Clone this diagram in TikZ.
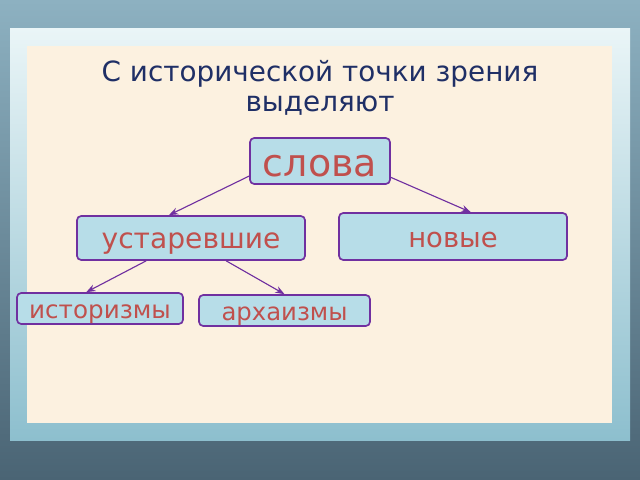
\documentclass[tikz,border=0pt]{standalone}
\usepackage{fontspec}
\setmainfont{DejaVu Sans}
\usetikzlibrary{arrows.meta}

\begin{document}
\begin{tikzpicture}[x=0.025cm, y=-0.025cm, >=Stealth]

\def\fw{640}
\def\fh{480}

% Colours
\definecolor{bgtop}{HTML}{8DB1C1}
\definecolor{bgbot}{HTML}{4A6474}
\definecolor{frametop}{HTML}{EAF5F7}
\definecolor{framebot}{HTML}{8DBFCE}
\definecolor{panelcolor}{HTML}{FCF1E0}
\definecolor{boxcolor}{HTML}{B7DDE8}
\definecolor{edgecolor}{HTML}{7030A0}
\definecolor{wordcolor}{HTML}{C0504D}
\definecolor{titlecolor}{HTML}{1F2F66}

% Styles
\tikzstyle{word box}=[draw=edgecolor, line width=1.2pt, fill=boxcolor, rounded corners=3pt, text=wordcolor, inner sep=0pt, text depth=0pt]
\tikzstyle{link}=[->, draw=edgecolor, line width=0.8pt]

% Background and frame
\useasboundingbox (0,0) rectangle (\fw,\fh);
\shade[top color=bgtop, bottom color=bgbot] (0,0) rectangle (\fw,\fh);
\shade[top color=frametop, bottom color=framebot] (10,28) rectangle (630,440);
\fill[panelcolor] (27,46) rectangle (612,423);

% Title
\node[text=titlecolor, align=center, font=\fontsize{19.8}{21.3}\selectfont] (title) at (320,88)
  {С исторической точки зрения\\выделяют};

% Words
\node[word box, minimum width=3.5cm, minimum height=1.15cm, text height=21.6pt, font=\fontsize{27}{30}\selectfont] (slova) at (320,161) {слова};
\node[word box, minimum width=5.7cm, minimum height=1.1cm, text height=15.5pt, font=\fontsize{20}{24}\selectfont] (ustar) at (191,238) {устаревшие};
\node[word box, minimum width=5.7cm, minimum height=1.175cm, text height=15.6pt, font=\fontsize{19.5}{24}\selectfont] (novye) at (453,236.5) {новые};
\node[word box, minimum width=4.15cm, minimum height=0.775cm, text height=14pt, font=\fontsize{17.5}{20}\selectfont] (istor) at (100,308.5) {историзмы};
\node[word box, minimum width=4.275cm, minimum height=0.775cm, text height=13.8pt, font=\fontsize{17.3}{20}\selectfont] (arch) at (284.5,310.5) {архаизмы};

% Links
\draw[link] (slova.192) -- (ustar.134);
\draw[link] (slova.347) -- (novye.54);
\draw[link] (ustar.207) -- (istor.130);
\draw[link] (ustar.327) -- (arch.north);

\end{tikzpicture}
\end{document}
